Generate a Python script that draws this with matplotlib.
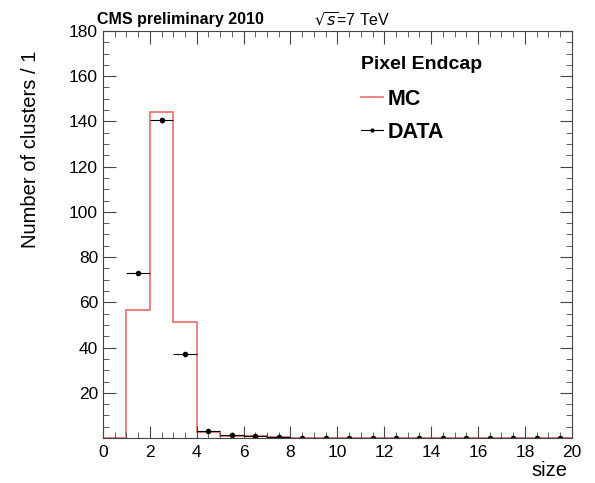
import matplotlib
matplotlib.use("Agg")
import matplotlib.pyplot as plt
from matplotlib.ticker import MultipleLocator
from matplotlib.lines import Line2D
import numpy as np

plt.rcParams['font.family'] = ['Liberation Sans', 'DejaVu Sans']

# MC histogram (bin edges 0..20, width 1)
mc_edges = list(range(0, 21))
mc_values = [0, 56.5, 144, 51.5, 2.6, 1.0, 0.7, 0.3, 0, 0, 0, 0, 0, 0, 0, 0, 0, 0, 0, 0]

# DATA points (bin centres)
data_x = [1.5, 2.5, 3.5, 4.5, 5.5, 6.5, 7.5, 8.5, 9.5, 10.5, 11.5, 12.5, 13.5, 14.5, 15.5, 16.5, 17.5, 18.5, 19.5]
data_y = [73, 140.5, 37, 3.0, 1.3, 0.8, 0.4, 0.15, 0.1, 0.1, 0.1, 0.1, 0.1, 0.1, 0.1, 0.1, 0.1, 0.1, 0.1]

fig = plt.figure(figsize=(5.95, 4.83), dpi=100)
ax = fig.add_axes([0.173, 0.093, 0.788, 0.843])

mc_color = '#ee7777'
ax.stairs(mc_values, mc_edges, color=mc_color, lw=1.3, baseline=0)
ax.errorbar(data_x, data_y, xerr=0.5, yerr=np.sqrt(np.array(data_y)) * 0.1,
            fmt='o', color='black', ms=3, lw=0.8, capsize=0)

ax.set_xlim(0, 20)
ax.set_ylim(0, 180)
ax.xaxis.set_major_locator(MultipleLocator(2))
ax.xaxis.set_minor_locator(MultipleLocator(0.5))
ax.set_yticks([20, 40, 60, 80, 100, 120, 140, 160, 180])
ax.yaxis.set_minor_locator(MultipleLocator(5))
ax.tick_params(which='both', direction='in', top=True, right=True, labelsize=12.5, color='#444444')
ax.tick_params(which='major', length=9)
ax.tick_params(which='minor', length=4.5)
ax.tick_params(axis='x', pad=5)
for s in ax.spines.values():
    s.set_color('#444444')

ax.set_ylabel('Number of clusters / 1', fontsize=14.5)
ax.yaxis.set_label_coords(-0.134, 0.71)
ax.set_xlabel('size', fontsize=14.5)
ax.xaxis.set_label_coords(0.953, -0.057)

fig.text(0.163, 0.96, 'CMS preliminary 2010', fontsize=11.5, fontweight='bold', va='center')
fig.text(0.527, 0.96, r'$\sqrt{s}$=7 TeV', fontsize=11.5, va='center')

handles = [Line2D([], [], color=mc_color, lw=1.3),
           Line2D([], [], color='black', marker='o', ms=2, lw=0.8)]
leg = ax.legend(handles, ['MC', 'DATA'], title='Pixel Endcap', frameon=False,
                loc='upper left', bbox_to_anchor=(0.51, 0.985),
                handlelength=1.0, handletextpad=0.2, labelspacing=0.55,
                prop={'weight': 'bold', 'size': 15.5})
leg.get_title().set_fontweight('bold')
leg.get_title().set_fontsize(14)
leg._legend_box.align = 'left'
leg._legend_box.sep = 11

fig.savefig('out.png', dpi=100)
